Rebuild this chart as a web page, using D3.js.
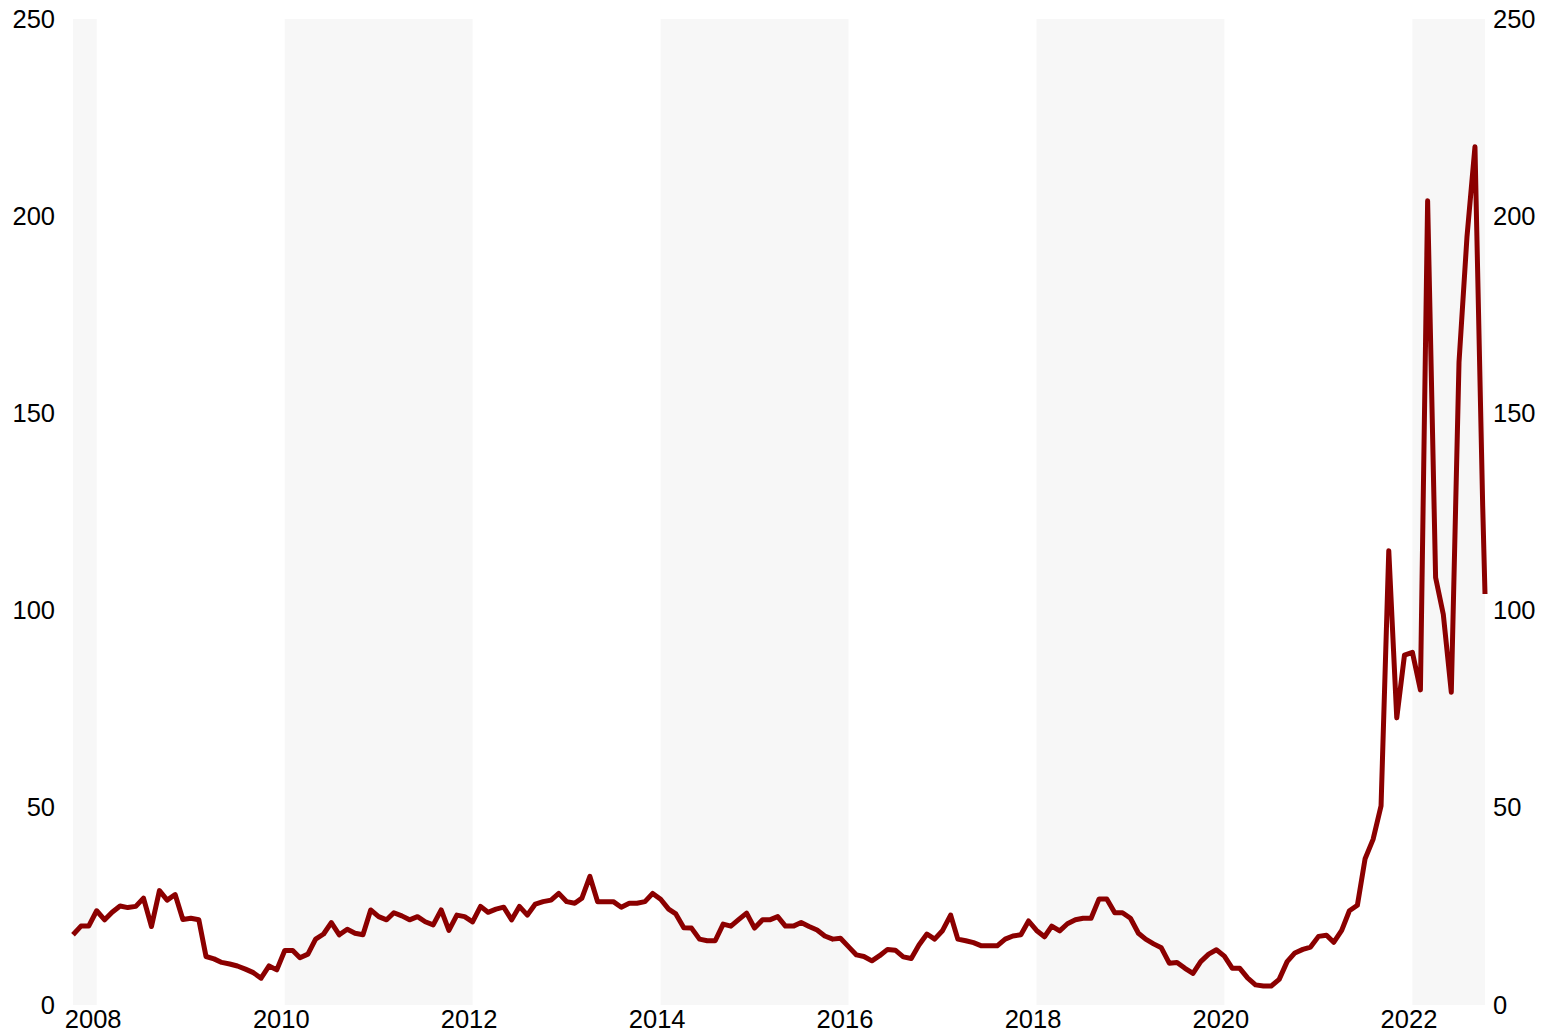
<!DOCTYPE html>
<html>
<head>
<meta charset="utf-8">
<script src="https://cdn.jsdelivr.net/npm/d3@7"></script>
<style>
  html, body { margin: 0; padding: 0; background: #ffffff; }
  svg { display: block; }
  text { font-family: "Liberation Sans", Arial, Helvetica, sans-serif; }
</style>
</head>
<body>
<svg id="chart" width="1547" height="1035"></svg>
<script>
// ---- data ----
const startMonth = "2007-10-01";
const monthlyValues = [
  17.8, 20.0, 20.0,
  23.9, 21.6, 23.5, 25.1, 24.7, 25.0, 27.1, 19.9, 29.0, 26.6, 28.0, 21.7,
  22.0, 21.6, 12.3, 11.7, 10.8, 10.4, 9.9, 9.1, 8.2, 6.8, 9.9, 8.9,
  13.8, 13.8, 12.0, 12.9, 16.7, 18.0, 20.9, 17.8, 19.2, 18.2, 17.8, 24.1,
  22.4, 21.6, 23.4, 22.6, 21.6, 22.4, 21.1, 20.3, 24.1, 18.9, 22.8, 22.4,
  21.1, 25.0, 23.5, 24.3, 24.8, 21.6, 25.0, 22.8, 25.6, 26.2, 26.6, 28.3,
  26.2, 25.8, 27.1, 32.6, 26.2, 26.2, 26.2, 24.8, 25.8, 25.8, 26.2, 28.3,
  26.8, 24.3, 23.1, 19.6, 19.5, 16.7, 16.3, 16.3, 20.5, 20.0, 21.7, 23.3,
  19.5, 21.6, 21.6, 22.4, 20.0, 20.0, 20.9, 19.9, 19.0, 17.5, 16.7, 16.9,
  14.8, 12.7, 12.3, 11.2, 12.5, 14.1, 13.9, 12.2, 11.8, 15.2, 18.0, 16.7,
  18.9, 22.8, 16.7, 16.3, 15.8, 15.0, 15.0, 15.0, 16.7, 17.5, 17.8, 21.3,
  18.9, 17.3, 20.0, 18.8, 20.6, 21.6, 22.0, 22.0, 26.9, 26.9, 23.4, 23.4,
  22.0, 18.2, 16.7, 15.5, 14.5, 10.6, 10.8, 9.3, 8.0, 11.0, 12.9, 14.0,
  12.4, 9.3, 9.3, 6.8, 5.1, 4.8, 4.8, 6.5, 11.0, 13.2, 14.1, 14.7,
  17.4, 17.7, 15.9, 18.9, 23.9, 25.3, 37.1, 42.0, 50.5, 115.2, 72.8, 88.7,
  89.4, 79.9, 203.9, 108.4, 99.0, 79.3, 163.0, 194.8, 217.6, 126.6
];
const lastDate = "2022-10-10";
const lastValue = 104.2;

const xTickYears = [2008, 2010, 2012, 2014, 2016, 2018, 2020, 2022];
const yTicks = [0, 50, 100, 150, 200, 250];
const shadedBandStartYears = [2006, 2010, 2014, 2018, 2022];

// ---- build series ----
const parse = d3.timeParse("%Y-%m-%d");
const start = parse(startMonth);
const series = monthlyValues.map((v, i) => ({ date: d3.timeMonth.offset(start, i), value: v }));
series.push({ date: parse(lastDate), value: lastValue });

// ---- layout ----
const W = 1547, H = 1035;
const margin = { top: 19, right: 62, bottom: 30, left: 73 };
const svg = d3.select("#chart");

const x = d3.scaleTime()
  .domain([start, parse(lastDate)])
  .range([margin.left, W - margin.right]);
const y = d3.scaleLinear()
  .domain([0, 250])
  .range([H - margin.bottom, margin.top]);

// shaded bands
const [x0, x1] = x.range();
svg.append("g").selectAll("rect")
  .data(shadedBandStartYears)
  .join("rect")
  .attr("x", d => Math.max(x0, x(new Date(d, 0, 1))))
  .attr("width", d => Math.max(0, Math.min(x1, x(new Date(d + 2, 0, 1))) - Math.max(x0, x(new Date(d, 0, 1)))))
  .attr("y", y(250))
  .attr("height", y(0) - y(250))
  .attr("fill", "#f7f7f7");

const fontSize = "25.5px";

// axes
const yLeft = svg.append("g")
  .attr("transform", `translate(${margin.left},0)`)
  .call(d3.axisLeft(y).tickValues(yTicks).tickSize(0).tickPadding(18));
const yRight = svg.append("g")
  .attr("transform", `translate(${W - margin.right},0)`)
  .call(d3.axisRight(y).tickValues(yTicks).tickSize(0).tickPadding(8));
const xAxis = svg.append("g")
  .attr("transform", `translate(0,${H - margin.bottom})`)
  .call(d3.axisBottom(x)
    .tickValues(xTickYears.map(yr => new Date(yr, 0, 1)))
    .tickFormat(d3.timeFormat("%Y"))
    .tickSize(0).tickPadding(5));

[yLeft, yRight, xAxis].forEach(g => {
  g.select(".domain").remove();
  g.selectAll("text")
    .attr("font-family", "'Liberation Sans', Arial, sans-serif")
    .attr("font-size", fontSize)
    .attr("fill", "#000");
});
xAxis.selectAll("text").attr("dx", "-4");

// line
const line = d3.line()
  .x(d => x(d.date))
  .y(d => y(d.value));

svg.append("path")
  .datum(series)
  .attr("d", line)
  .attr("fill", "none")
  .attr("stroke", "#8B0000")
  .attr("stroke-width", 5)
  .attr("stroke-linejoin", "round");
</script>
</body>
</html>
